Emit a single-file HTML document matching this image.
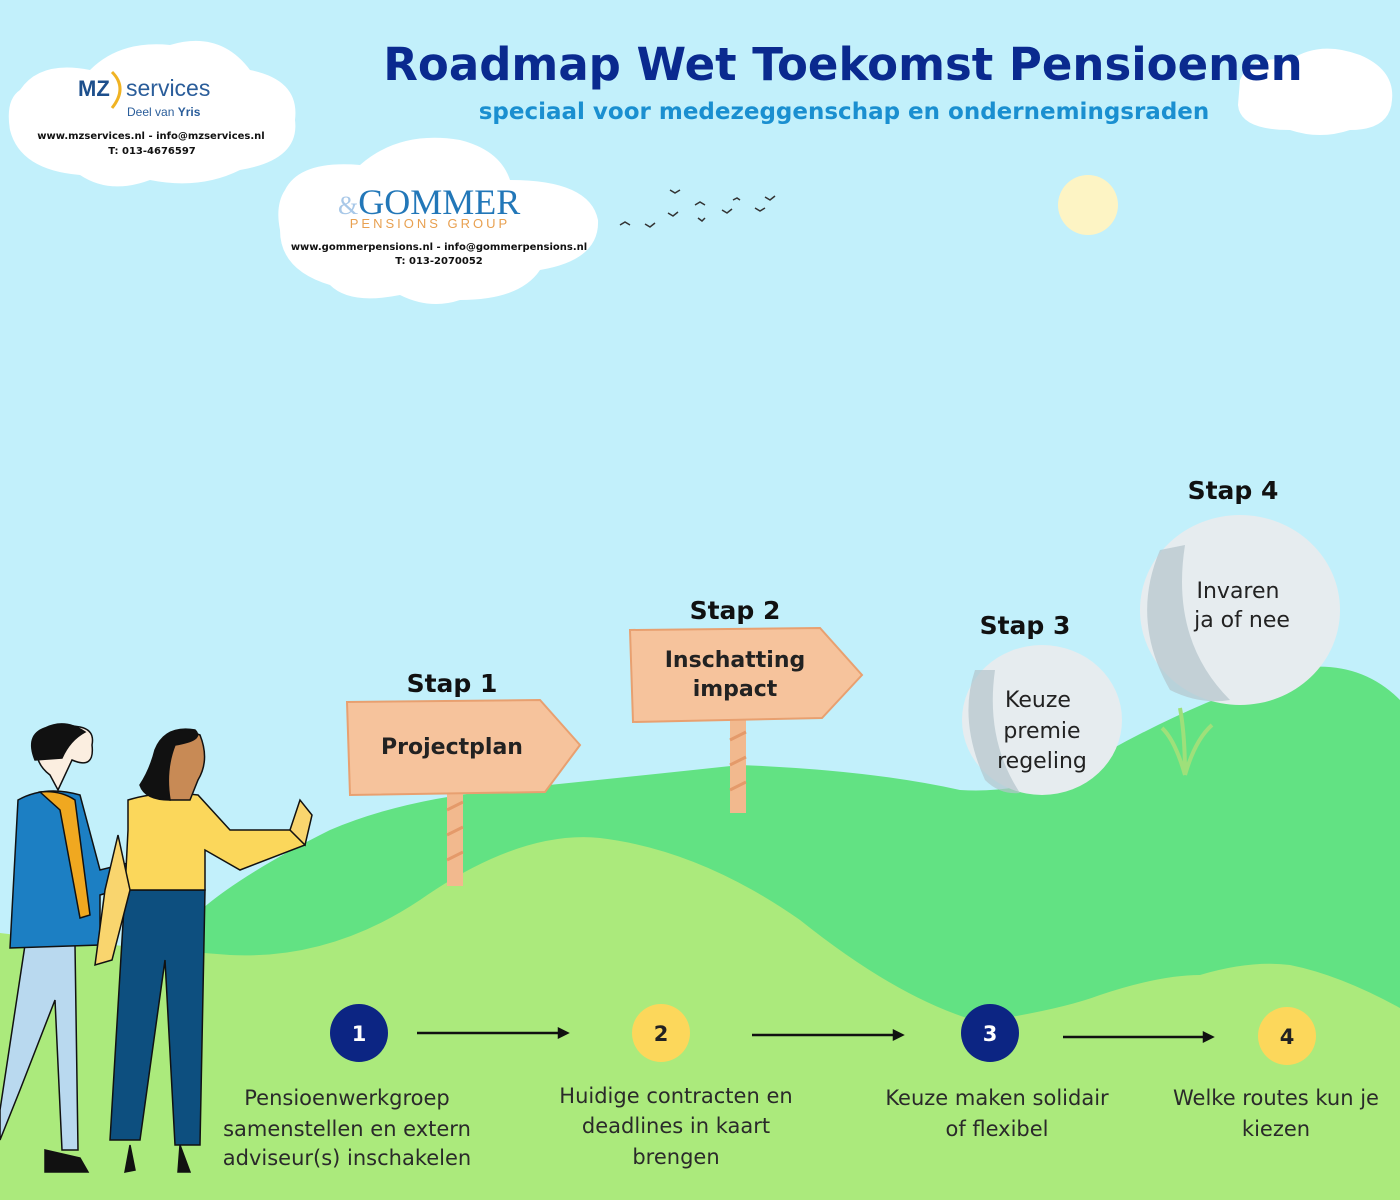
<!DOCTYPE html>
<html><head><meta charset="utf-8"><style>
html,body{margin:0;padding:0;background:#c2f0fb;}
svg{display:block}
text{font-family:"DejaVu Sans","Liberation Sans",sans-serif}
.s{font-family:"Liberation Sans",sans-serif}
</style></head><body>
<svg width="1400" height="1200" viewBox="0 0 1400 1200" xmlns="http://www.w3.org/2000/svg">
<rect width="1400" height="1200" fill="#c2f0fb"/>
<!-- clouds -->
<g fill="#ffffff">
<path d="M20,90 Q40,60 90,70 Q120,40 170,45 Q220,30 250,70 Q300,80 295,120 Q300,160 240,170 Q200,190 150,180 Q110,195 80,175 Q20,170 10,130 Q5,100 20,90Z"/>
<path d="M285,190 Q300,160 360,165 Q400,130 460,140 Q500,150 510,180 Q590,180 598,220 Q600,260 540,270 Q520,300 460,300 Q430,310 400,295 Q350,305 330,285 Q280,270 280,230 Q275,205 285,190Z"/>
<path d="M1240,80 Q1250,55 1290,60 Q1320,40 1360,55 Q1395,70 1392,100 Q1390,130 1350,130 Q1320,140 1290,130 Q1240,130 1238,105Z"/>
</g>
<circle cx="1088" cy="205" r="30" fill="#fdf4c4"/>
<!-- birds -->
<g stroke="#333" stroke-width="1.5" fill="none">
<path d="M620,225 l5,-3 l5,3"/><path d="M645,224 l5,3 l5,-4"/><path d="M668,213 l5,3 l5,-4"/><path d="M670,190 l5,3 l5,-3"/><path d="M695,205 l5,-3 l5,3"/><path d="M698,218 l4,3 l3,-3"/><path d="M722,210 l5,3 l5,-4"/><path d="M733,200 l4,-2 l3,2"/><path d="M755,208 l5,3 l5,-3"/><path d="M765,197 l5,3 l5,-4"/>
</g>
<!-- logos -->
<text x="78" y="96" font-size="22" font-weight="bold" fill="#1d4f8c" class="s">MZ</text>
<path d="M112,72 Q128,88 112,108" stroke="#f0b323" stroke-width="3" fill="none"/>
<text x="126" y="96" font-size="23" fill="#2a5d9a" class="s">services</text>
<text x="127" y="116" font-size="12" fill="#2a5d9a" class="s">Deel van <tspan font-weight="bold">Yris</tspan></text>
<text x="151" y="139" font-size="10" font-weight="bold" fill="#111" text-anchor="middle">www.mzservices.nl - info@mzservices.nl</text>
<text x="152" y="154" font-size="10" font-weight="bold" fill="#111" text-anchor="middle">T: 013-4676597</text>
<text x="338" y="214" font-size="36" fill="#2277b8" font-family="Liberation Serif,serif" style="font-family:'Liberation Serif',serif"><tspan fill="#a8c8e8" font-size="26">&amp;</tspan>GOMMER</text>
<text x="430" y="228" font-size="13" fill="#e8a050" text-anchor="middle" letter-spacing="3" class="s">PENSIONS GROUP</text>
<text x="439" y="250" font-size="10" font-weight="bold" fill="#111" text-anchor="middle">www.gommerpensions.nl - info@gommerpensions.nl</text>
<text x="439" y="264" font-size="10" font-weight="bold" fill="#111" text-anchor="middle">T: 013-2070052</text>
<!-- title -->
<text x="843" y="80" font-size="45" font-weight="bold" fill="#0a2a8f" text-anchor="middle">Roadmap Wet Toekomst Pensioenen</text>
<text x="844" y="119" font-size="23" font-weight="bold" fill="#1a8fd0" text-anchor="middle">speciaal voor medezeggenschap en ondernemingsraden</text>
<!-- hills -->
<path d="M190,1200 L190,920 Q230,880 330,830 Q400,800 500,790 Q600,780 740,765 Q870,770 960,790 Q1040,795 1110,750 Q1200,700 1300,668 Q1360,660 1400,700 L1400,1200Z" fill="#62e283"/>
<path d="M0,1200 L0,933 Q100,945 230,955 Q330,960 420,900 Q520,830 600,838 Q700,850 800,920 Q900,1000 980,1022 Q1060,1010 1100,995 Q1160,975 1200,975 Q1250,960 1290,965 Q1340,975 1400,1008 L1400,1200Z" fill="#abea7c"/>
<!-- posts -->
<rect x="447" y="790" width="16" height="96" fill="#f2b98e"/>
<rect x="730" y="715" width="16" height="98" fill="#f2b98e"/>
<g stroke="#e49a6a" stroke-width="3"><path d="M447,810 l16,-8 M447,835 l16,-8 M447,860 l16,-8 M730,740 l16,-8 M730,765 l16,-8 M730,790 l16,-8"/></g>
<!-- signs -->
<path d="M347,702 L540,700 L580,745 L545,792 L350,795Z" fill="#f6c39c" stroke="#e8a070" stroke-width="2"/>
<path d="M630,630 L820,628 L862,675 L822,718 L633,722Z" fill="#f6c39c" stroke="#e8a070" stroke-width="2"/>
<text x="452" y="754" font-size="22" font-weight="bold" fill="#222" text-anchor="middle">Projectplan</text>
<text x="735" y="667" font-size="22" font-weight="bold" fill="#222" text-anchor="middle">Inschatting</text>
<text x="735" y="696" font-size="22" font-weight="bold" fill="#222" text-anchor="middle">impact</text>
<text x="452" y="692" font-size="25" font-weight="bold" fill="#111" text-anchor="middle">Stap 1</text>
<text x="735" y="619" font-size="25" font-weight="bold" fill="#111" text-anchor="middle">Stap 2</text>
<text x="1025" y="634" font-size="25" font-weight="bold" fill="#111" text-anchor="middle">Stap 3</text>
<text x="1233" y="499" font-size="25" font-weight="bold" fill="#111" text-anchor="middle">Stap 4</text>
<!-- stones -->
<ellipse cx="1042" cy="720" rx="80" ry="75" fill="#e6ecef"/>
<ellipse cx="1240" cy="610" rx="100" ry="95" fill="#e6ecef"/>
<path d="M975,670 Q958,720 985,780 Q1000,795 1020,793 Q985,740 995,670Z" fill="#b4c4cc" opacity="0.7"/>
<path d="M1160,550 Q1130,620 1170,690 Q1200,705 1230,700 Q1170,640 1185,545Z" fill="#b4c4cc" opacity="0.7"/>
<text x="1038" y="707" font-size="22" fill="#222" text-anchor="middle">Keuze</text>
<text x="1042" y="738" font-size="22" fill="#222" text-anchor="middle">premie</text>
<text x="1042" y="768" font-size="22" fill="#222" text-anchor="middle">regeling</text>
<text x="1238" y="598" font-size="22" fill="#222" text-anchor="middle">Invaren</text>
<text x="1242" y="627" font-size="22" fill="#222" text-anchor="middle">ja of nee</text>
<g stroke="#9ee07a" stroke-width="4" fill="none"><path d="M1185,775 Q1175,740 1162,728 M1185,775 Q1185,735 1180,708 M1185,775 Q1195,740 1212,725"/></g>
<!-- people -->
<g stroke="#111" stroke-width="1.5">
<path d="M25,945 L75,945 L78,1150 L62,1150 L55,1000 L20,1090 L0,1140 L0,1110Z" fill="#b9d9ef"/>
<path d="M45,1150 L80,1158 L88,1172 L45,1172Z" fill="#111"/>
<path d="M18,800 Q45,785 80,795 L100,870 L148,858 L152,880 L100,895 L100,945 L10,948Z" fill="#1c7fc3"/>
<path d="M40,792 Q60,790 75,800 L90,915 L80,918 L60,810Z" fill="#f0a820"/>
<path d="M58,790 L72,760 Q95,770 92,745 Q95,730 80,727 Q55,722 40,735 Q30,760 50,775Z" fill="#fbeee0"/>
<path d="M35,760 Q25,735 45,728 Q65,718 85,732 Q70,740 62,758 Z" fill="#111"/>
<path d="M125,890 L205,890 L200,1145 L175,1145 L165,960 L140,1140 L110,1140Z" fill="#0d4f7f"/>
<path d="M130,1145 L135,1170 L125,1172 Z M180,1145 L190,1172 L178,1172Z" fill="#111"/>
<path d="M128,800 Q160,790 198,795 L230,830 L298,830 L305,845 L240,870 L205,850 L205,890 L125,890 L128,830Z" fill="#fbd75b"/>
<path d="M290,830 L300,800 L312,815 L305,845Z" fill="#f9d56e"/>
<path d="M118,835 L130,890 L112,960 L95,965 L105,890Z" fill="#f9d56e"/>
<path d="M165,785 Q155,760 160,745 Q175,725 200,735 Q210,760 198,780 L190,800 L170,800Z" fill="#c88a55"/>
<path d="M155,750 Q165,725 195,730 Q205,740 175,745 Q165,770 170,800 Q145,800 140,785 Q150,770 155,750Z" fill="#111"/>
</g>
<!-- steps -->
<g stroke="#111" stroke-width="2.5" fill="#111">
<line x1="417" y1="1033" x2="560" y2="1033"/><path d="M567,1033 l-8,-4 v8Z"/>
<line x1="752" y1="1035" x2="895" y2="1035"/><path d="M902,1035 l-8,-4 v8Z"/>
<line x1="1063" y1="1037" x2="1205" y2="1037"/><path d="M1212,1037 l-8,-4 v8Z"/>
</g>
<circle cx="359" cy="1033" r="29" fill="#0c2583"/>
<circle cx="661" cy="1033" r="29" fill="#fcd75b"/>
<circle cx="990" cy="1033" r="29" fill="#0c2583"/>
<circle cx="1287" cy="1036" r="29" fill="#fcd75b"/>
<g font-size="21" font-weight="bold" text-anchor="middle">
<text x="359" y="1041" fill="#fff">1</text><text x="661" y="1041" fill="#222">2</text>
<text x="990" y="1041" fill="#fff">3</text><text x="1287" y="1044" fill="#222">4</text>
</g>
<g font-size="21" fill="#2a2a2a" text-anchor="middle">
<text x="347" y="1105">Pensioenwerkgroep</text><text x="347" y="1136">samenstellen en extern</text><text x="347" y="1165">adviseur(s) inschakelen</text>
<text x="676" y="1103">Huidige contracten en</text><text x="676" y="1133">deadlines in kaart</text><text x="676" y="1164">brengen</text>
<text x="997" y="1105">Keuze maken solidair</text><text x="997" y="1136">of flexibel</text>
<text x="1276" y="1105">Welke routes kun je</text><text x="1276" y="1136">kiezen</text>
</g>
</svg>
</body></html>
